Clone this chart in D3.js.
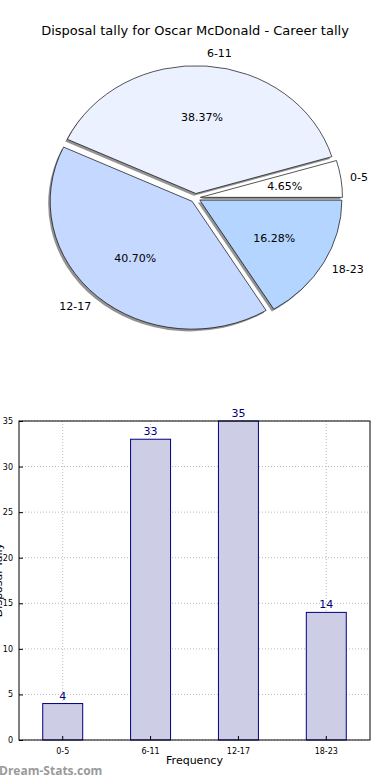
<!DOCTYPE html>
<html>
<head>
<meta charset="utf-8">
<script src="https://cdn.jsdelivr.net/npm/d3@7"></script>
<style>
  body { margin: 0; background: #fff; }
  svg { display: block; font-family: 'DejaVu Sans', sans-serif; }
</style>
</head>
<body>
<svg id="chart" width="390" height="780"></svg>
<script>
// ----- Data -----
let categories = ['0-5', '6-11', '12-17', '18-23']
let tally = [4, 33, 35, 14]
let sliceColors = ['#ffffff', '#ebf1ff', '#c5d8ff', '#b4d5ff']
let yTicks = [0, 5, 10, 15, 20, 25, 30, 35]

let svg = d3.select('#chart')

// ----- Title -----
svg.append('text')
   .attr('x', 195)
   .attr('y', 35)
   .attr('text-anchor', 'middle')
   .attr('font-size', '13px')
   .attr('fill', '#000')
   .text('Disposal tally for Oscar McDonald - Career tally')

// ----- Pie -----
let cx = 195.5, cy = 198
let radius = 142
let squash = 0.9   // pie is a bit wider than tall
let explode = 5
let total = d3.sum(tally)

// matplotlib style: start at 3 o'clock, go counter clockwise
let pie = d3.pie().sort(null).startAngle(Math.PI / 2).endAngle(Math.PI / 2 - 2 * Math.PI)
let arcs = pie(tally)
let arc = d3.arc().innerRadius(0).outerRadius(radius)

function offset(d, dist) {
    let a = (d.startAngle + d.endAngle) / 2
    return [Math.sin(a) * dist, -Math.cos(a) * dist]
}

let pieG = svg.append('g')
              .attr('transform', 'translate(' + cx + ',' + cy + ') scale(1,' + squash + ')')

// shadow
pieG.selectAll('path.shadow')
    .data(arcs)
    .enter()
    .append('path')
    .attr('class', 'shadow')
    .attr('d', arc)
    .attr('transform', function (d) {
        let o = offset(d, explode)
        return 'translate(' + (o[0] - 2) + ',' + (o[1] + 2.5) + ')'
    })
    .attr('fill', '#808080')
    .attr('opacity', 0.85)

pieG.selectAll('path.slice')
    .data(arcs)
    .enter()
    .append('path')
    .attr('class', 'slice')
    .attr('d', arc)
    .attr('transform', function (d) {
        let o = offset(d, explode)
        return 'translate(' + o + ')'
    })
    .attr('fill', function (d, i) { return sliceColors[i] })
    .attr('stroke', '#000')
    .attr('stroke-width', 0.7)

// outer labels
svg.selectAll('text.cat')
   .data(arcs)
   .enter()
   .append('text')
   .attr('class', 'cat')
   .attr('x', function (d) { return cx + offset(d, radius * 1.1)[0] })
   .attr('y', function (d) { return cy + offset(d, explode + radius * 1.1)[1] * squash })
   .attr('dy', '0.35em')
   .attr('text-anchor', function (d) { return offset(d, 1)[0] >= 0 ? 'start' : 'end' })
   .attr('font-size', '11px')
   .text(function (d, i) { return categories[i] })

// percentages
svg.selectAll('text.pct')
   .data(arcs)
   .enter()
   .append('text')
   .attr('class', 'pct')
   .attr('x', function (d) { return cx + offset(d, explode + radius * 0.6)[0] })
   .attr('y', function (d) { return cy + offset(d, explode + radius * 0.6)[1] * squash })
   .attr('dy', '0.35em')
   .attr('text-anchor', 'middle')
   .attr('font-size', '11px')
   .text(function (d) { return (d.value / total * 100).toFixed(2) + '%' })

// ----- Bar chart -----
let barLeft = 19, barRight = 370, barTop = 421, barBottom = 740

let x = d3.scaleBand().domain(categories).range([barLeft, barRight]).paddingInner(0.545).paddingOuter(0.27)
let y = d3.scaleLinear().domain([0, 35]).range([barBottom, barTop])

let barG = svg.append('g')

// grid
barG.selectAll('line.hgrid')
    .data(yTicks)
    .enter()
    .append('line')
    .attr('x1', barLeft).attr('x2', barRight)
    .attr('y1', function (d) { return y(d) }).attr('y2', function (d) { return y(d) })
    .attr('stroke', '#bbb')
    .attr('stroke-dasharray', '1,2')

barG.selectAll('line.vgrid')
    .data(categories)
    .enter()
    .append('line')
    .attr('x1', function (d) { return x(d) + x.bandwidth() / 2 })
    .attr('x2', function (d) { return x(d) + x.bandwidth() / 2 })
    .attr('y1', barTop).attr('y2', barBottom)
    .attr('stroke', '#bbb')
    .attr('stroke-dasharray', '1,2')

// bars
barG.selectAll('rect')
    .data(tally)
    .enter()
    .append('rect')
    .attr('x', function (d, i) { return x(categories[i]) })
    .attr('y', function (d) { return y(d) })
    .attr('width', x.bandwidth())
    .attr('height', function (d) { return barBottom - y(d) })
    .attr('fill', '#cdcde6')
    .attr('stroke', '#000080')
    .attr('stroke-width', 1)

// grid shows through the bars in the reference
barG.selectAll('line.vgrid').raise()

// value labels
barG.selectAll('text.val')
    .data(tally)
    .enter()
    .append('text')
    .attr('class', 'val')
    .attr('x', function (d, i) { return x(categories[i]) + x.bandwidth() / 2 })
    .attr('y', function (d) { return y(d) - 4 })
    .attr('text-anchor', 'middle')
    .attr('font-size', '11px')
    .attr('fill', '#000080')
    .text(function (d) { return d })

// axes
let yAxis = d3.axisLeft(y).tickValues(yTicks).tickSize(-4).tickPadding(6)
let yAxG = svg.append('g')
              .attr('transform', 'translate(' + barLeft + ',0)')
              .call(yAxis)
let xAxis = d3.axisBottom(x).tickSize(-4).tickPadding(8)
let xAxG = svg.append('g')
              .attr('transform', 'translate(0,' + barBottom + ')')
              .call(xAxis)

;[yAxG, xAxG].forEach(function (g) {
    g.select('.domain').remove()
    g.selectAll('text').attr('font-size', '8px').attr('font-family', "'DejaVu Sans', sans-serif").attr('fill', '#000')
    g.selectAll('line').attr('stroke', '#000')
})

// frame
svg.append('rect')
   .attr('x', barLeft).attr('y', barTop)
   .attr('width', barRight - barLeft).attr('height', barBottom - barTop)
   .attr('fill', 'none')
   .attr('stroke', '#000')
   .attr('stroke-width', 1)

svg.append('text')
   .attr('x', (barLeft + barRight) / 2)
   .attr('y', 764)
   .attr('text-anchor', 'middle')
   .attr('font-size', '11px')
   .text('Frequency')

svg.append('text')
   .attr('transform', 'translate(2,580) rotate(-90)')
   .attr('text-anchor', 'middle')
   .attr('font-size', '11px')
   .text('Disposal Tally')

// watermark
svg.append('text')
   .attr('x', -1)
   .attr('y', 775)
   .attr('font-size', '12px')
   .attr('font-weight', 'bold')
   .attr('fill', '#9a9a9a')
   .attr('font-family', "'Open Sans', 'DejaVu Sans', sans-serif")
   .text('Dream-Stats.com')
</script>
</body>
</html>
